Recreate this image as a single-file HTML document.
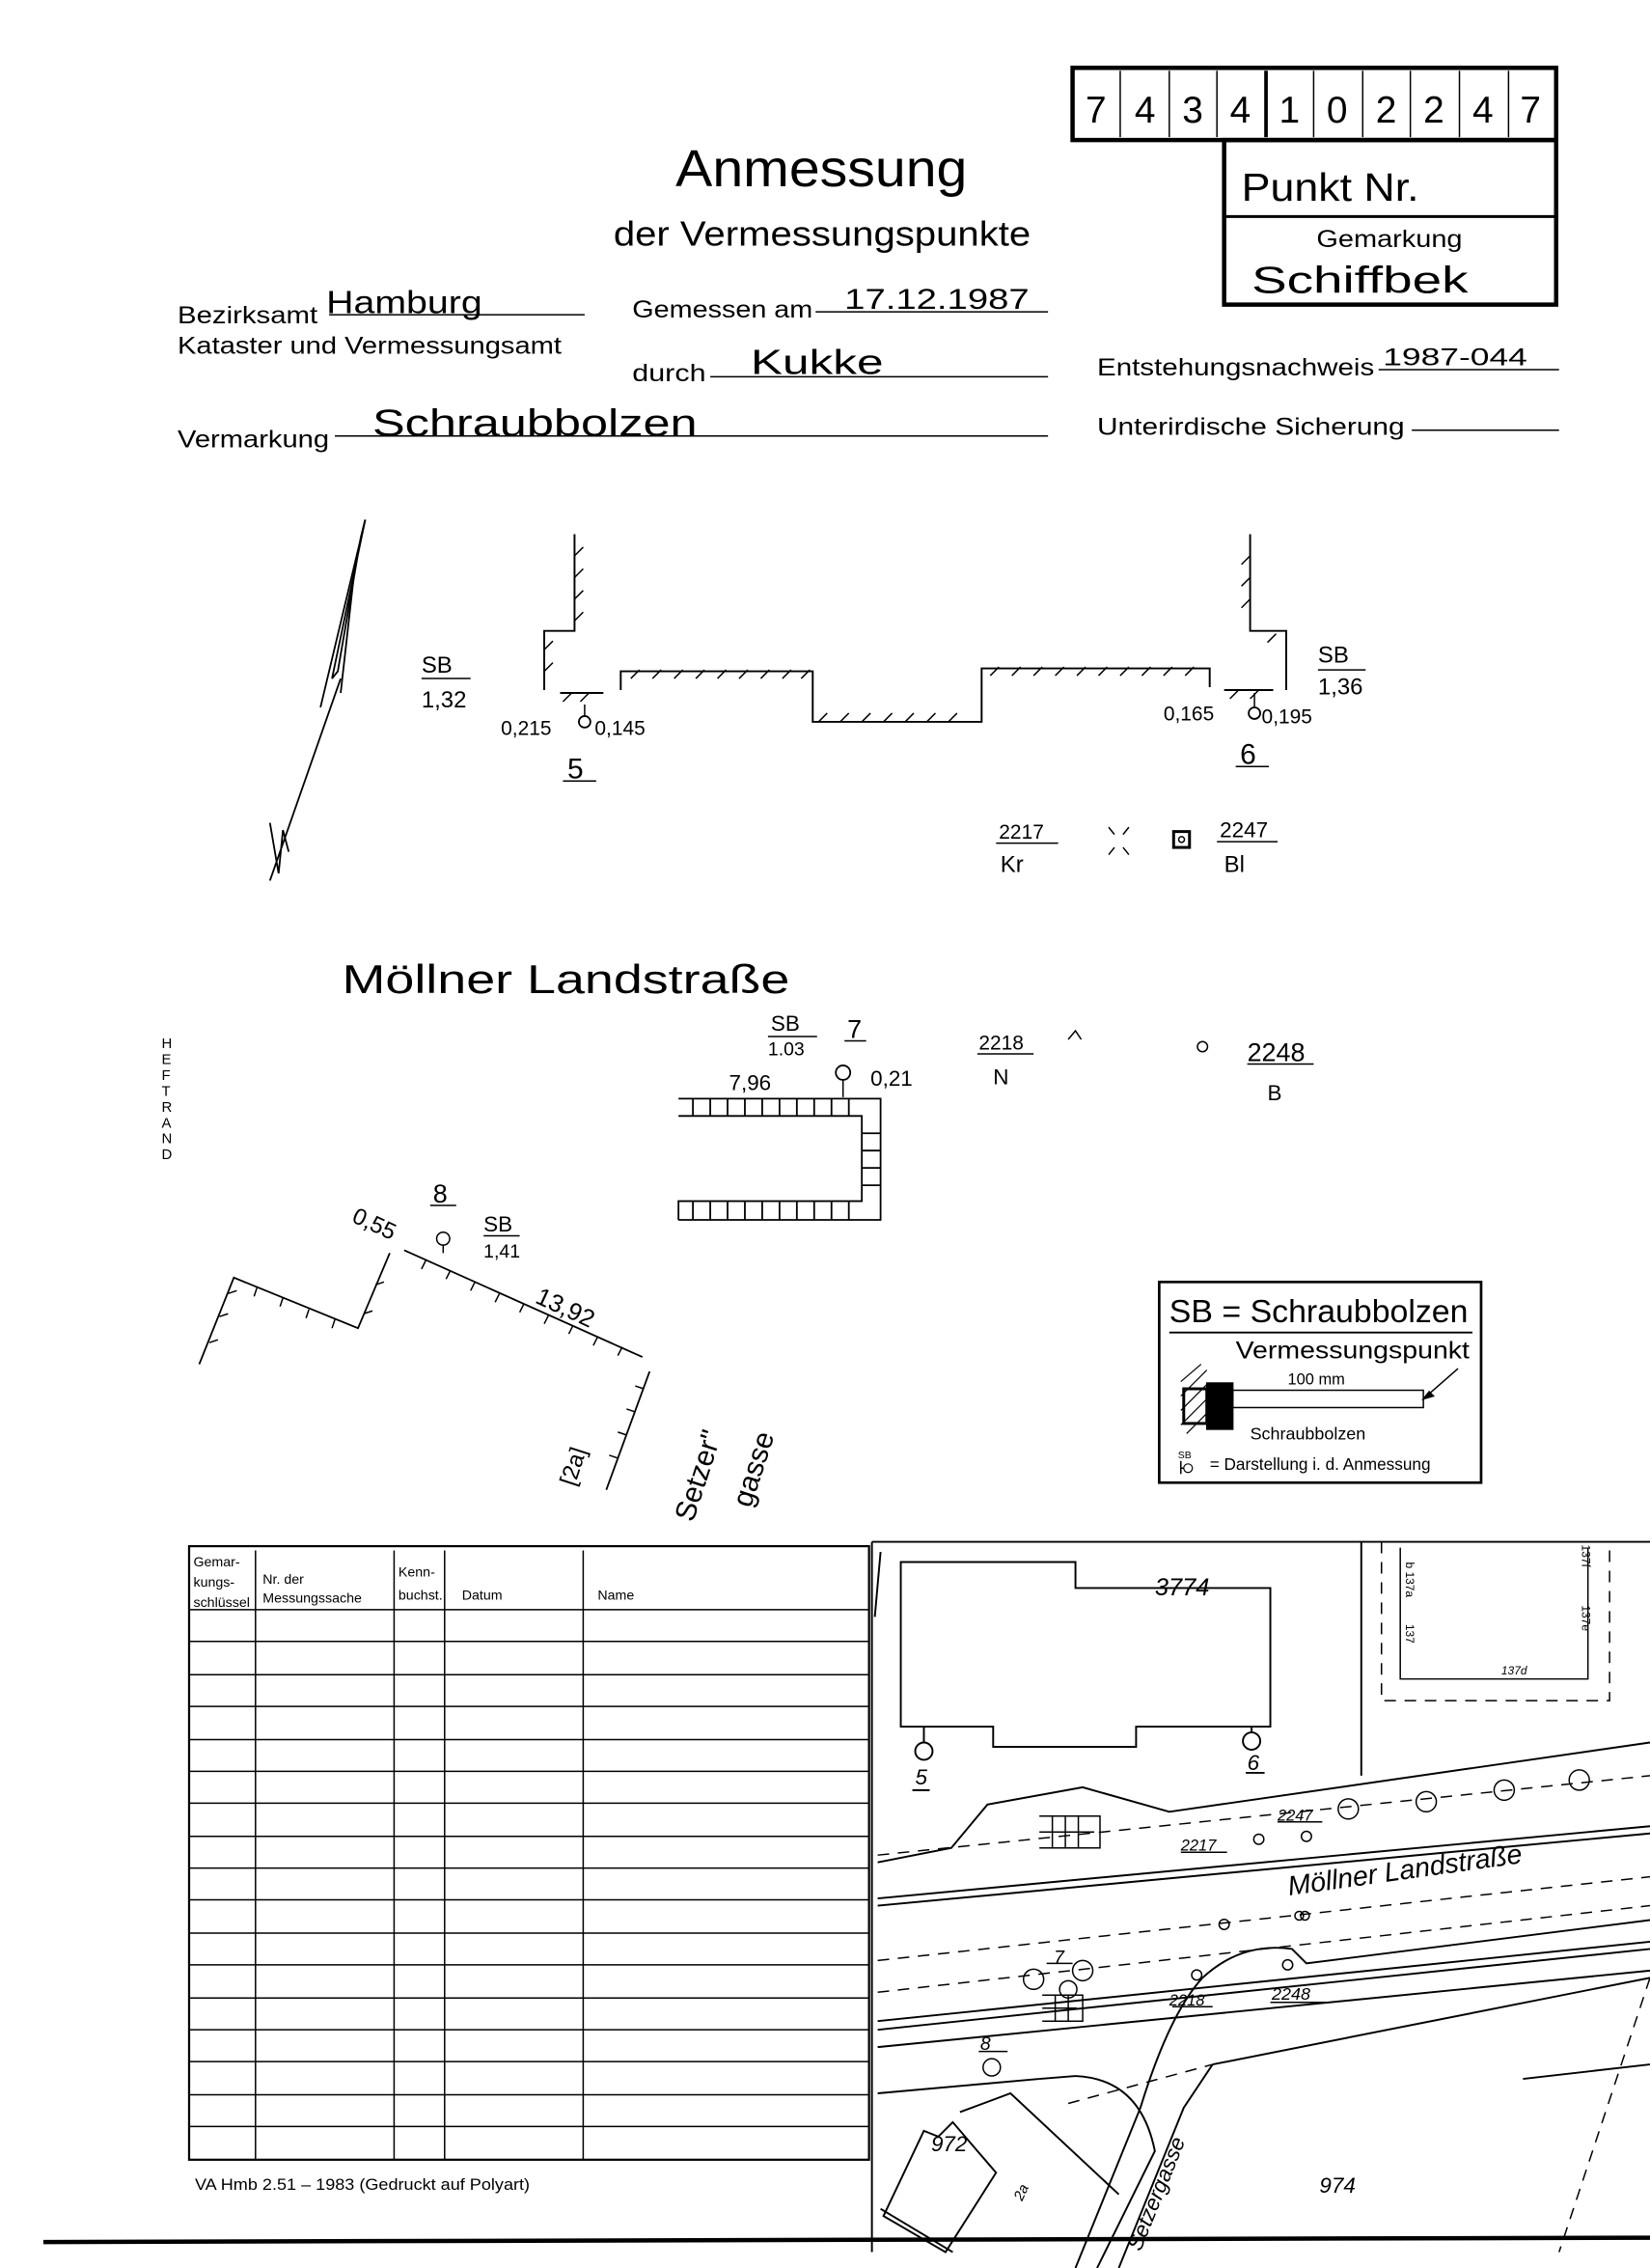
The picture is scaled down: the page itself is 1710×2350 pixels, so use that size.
<!DOCTYPE html>
<html><head><meta charset="utf-8"><style>
html,body{margin:0;padding:0;background:#fff}
svg{display:block}
text{font-family:"Liberation Sans",sans-serif;fill:#000}
</style></head><body>
<svg width="1710" height="2350" viewBox="0 0 1143 1571" preserveAspectRatio="none" xmlns="http://www.w3.org/2000/svg">
<g stroke="#000" fill="none">
<rect x="743" y="47" width="335" height="50" stroke-width="3"/>
<g stroke-width="1">
<line x1="776" y1="49" x2="776" y2="95"/><line x1="810" y1="49" x2="810" y2="95"/><line x1="843" y1="49" x2="843" y2="95"/>
<line x1="910" y1="49" x2="910" y2="95"/><line x1="944" y1="49" x2="944" y2="95"/><line x1="977" y1="49" x2="977" y2="95"/><line x1="1011" y1="49" x2="1011" y2="95"/><line x1="1045" y1="49" x2="1045" y2="95"/>
</g>
<line x1="877" y1="49" x2="877" y2="95" stroke-width="2.5"/>
<rect x="848" y="97" width="230" height="114" stroke-width="3"/>
<line x1="848" y1="150" x2="1078" y2="150" stroke-width="2"/>
<g stroke-width="1">
<line x1="228" y1="218" x2="405" y2="218"/>
<line x1="565" y1="216" x2="726" y2="216"/>
<line x1="492" y1="261" x2="726" y2="261"/>
<line x1="955" y1="256" x2="1080" y2="256"/>
<line x1="232" y1="302" x2="726" y2="302"/>
<line x1="978" y1="298" x2="1080" y2="298"/>
</g>
<g stroke-width="1.2">
<path d="M253,360 L230,470 L234,465 L250,372 Z"/>
<path d="M253,360 L222,490 M245,400 L236,480"/>
<path d="M236,470 L187,610 M187,570 L193,605 L196,575 L200,590"/>
</g>
<g stroke-width="1.3">
<path d="M398,370 V437 H377 V478"/>
<path d="M388,480 H418"/>
<path d="M430,478 V465 H563 V500 H680 V463 H838 V476"/>
<path d="M848,478 H882"/>
<path d="M866,370 V437 H891 V478"/>
</g>
<g stroke-width="1">
<path d="M398,385 l6,-6 M398,400 l6,-6 M398,415 l6,-6 M398,430 l6,-6"/>
<path d="M377,450 l6,-6 M377,465 l6,-6"/>
<path d="M437,470 l6,-6 M452,470 l6,-6 M467,470 l6,-6 M482,470 l6,-6 M497,470 l6,-6 M512,470 l6,-6 M527,470 l6,-6 M542,470 l6,-6 M555,470 l6,-6"/>
<path d="M567,500 l6,-6 M582,500 l6,-6 M597,500 l6,-6 M612,500 l6,-6 M627,500 l6,-6 M642,500 l6,-6 M657,500 l6,-6"/>
<path d="M686,468 l6,-6 M701,468 l6,-6 M716,468 l6,-6 M731,468 l6,-6 M746,468 l6,-6 M761,468 l6,-6 M776,468 l6,-6 M791,468 l6,-6 M806,468 l6,-6 M821,468 l6,-6"/>
<path d="M390,486 l6,-6 M402,486 l6,-6 M852,484 l6,-6 M866,484 l6,-6"/>
<path d="M866,385 l-6,6 M866,400 l-6,6 M866,415 l-6,6 M878,445 l6,-6"/>
</g>
<circle cx="405" cy="500" r="4" stroke-width="1.2"/><circle cx="869" cy="494" r="4" stroke-width="1.2"/>
<line x1="405" y1="488" x2="405" y2="496"/><line x1="869" y1="480" x2="869" y2="490"/>
<line x1="292" y1="470" x2="326" y2="470"/><line x1="913" y1="464" x2="946" y2="464"/>
<line x1="390" y1="541" x2="413" y2="541"/><line x1="856" y1="531" x2="879" y2="531"/>
<line x1="690" y1="584" x2="733" y2="584"/><line x1="843" y1="583" x2="885" y2="583"/>
<path d="M768,573 l4,5 M782,573 l-4,5 M768,592 l4,-5 M782,592 l-4,-5"/>
<rect x="813" y="576" width="11" height="11" stroke-width="2"/><circle cx="818.5" cy="581.5" r="2"/>
<line x1="532" y1="718" x2="566" y2="718"/><line x1="585" y1="721" x2="600" y2="721"/>
<line x1="677" y1="730" x2="716" y2="730"/><line x1="864" y1="737" x2="910" y2="737"/>
<path d="M740,720 l5,-6 l4,6"/>
<circle cx="833" cy="725" r="3.5"/>
<circle cx="584" cy="743" r="5" stroke-width="1.2"/><line x1="584" y1="748" x2="584" y2="760"/>
<g stroke-width="1.2">
<path d="M470,761 H610 V845 H470 M470,773 H597 V832 H470 V845"/>
<path d="M480,761 v12 M492,761 v12 M504,761 v12 M516,761 v12 M528,761 v12 M540,761 v12 M552,761 v12 M564,761 v12 M576,761 v12 M588,761 v12"/>
<path d="M480,832 v13 M492,832 v13 M504,832 v13 M516,832 v13 M528,832 v13 M540,832 v13 M552,832 v13 M564,832 v13 M576,832 v13 M588,832 v13"/>
<path d="M597,785 h13 M597,797 h13 M597,809 h13 M597,821 h13"/>
</g>
<line x1="298" y1="835" x2="316" y2="835"/>
<circle cx="307" cy="858" r="4.5"/><line x1="307" y1="862" x2="307" y2="868"/>
<line x1="335" y1="856" x2="360" y2="856"/>
<g stroke-width="1.2">
<path d="M280,866 L445,940"/>
<path d="M138,945 L162,885 L248,920 L270,868"/>
<path d="M450,950 L420,1032"/>
</g>
<g stroke-width="1">
<path d="M295,873 l-3,6 M312,880 l-3,6 M329,888 l-3,6 M346,896 l-3,6 M363,903 l-3,6 M380,911 l-3,6 M397,918 l-3,6 M414,926 l-3,6 M431,933 l-3,6"/>
<path d="M145,930 l6,-2 M152,912 l6,-2 M158,896 l6,-2 M178,892 l-2,6 M196,899 l-2,6 M214,907 l-2,6 M232,914 l-2,6 M252,910 l6,-2 M260,890 l6,-2"/>
<path d="M446,962 l-6,-2 M440,978 l-6,-2 M434,994 l-6,-2 M428,1010 l-6,-2"/>
</g>
<rect x="803" y="888" width="223" height="139" stroke-width="1.8"/>
<line x1="810" y1="923" x2="1020" y2="923" stroke-width="1.2"/>
<g stroke-width="0.8">
<path d="M818,957 l14,-12 M818,967 l18,-18 M818,977 l18,-18 M818,987 l18,-18 M822,993 l14,-14"/>
</g>
<rect x="820" y="962" width="16" height="24" stroke-width="2"/>
<rect x="836" y="958" width="18" height="32" fill="#000"/>
<rect x="854" y="963" width="132" height="12" stroke-width="1"/>
<line x1="1010" y1="948" x2="986" y2="969"/><path d="M986,969 l7,-2 l-3,-3 Z" fill="#000"/>
<circle cx="823" cy="1017" r="3" stroke-width="0.8"/><line x1="818" y1="1012" x2="818" y2="1021"/><line x1="818" y1="1017" x2="820" y2="1017"/>
<rect x="131" y="1071" width="471" height="425" stroke-width="1.5"/>
<g stroke-width="1">
<line x1="131" y1="1115" x2="602" y2="1115"/>
<line x1="177" y1="1074" x2="177" y2="1496"/><line x1="273" y1="1074" x2="273" y2="1496"/><line x1="308" y1="1074" x2="308" y2="1496"/><line x1="404" y1="1074" x2="404" y2="1496"/>
<line x1="131" y1="1137" x2="602" y2="1137"/><line x1="131" y1="1160" x2="602" y2="1160"/><line x1="131" y1="1182" x2="602" y2="1182"/><line x1="131" y1="1205" x2="602" y2="1205"/><line x1="131" y1="1227" x2="602" y2="1227"/><line x1="131" y1="1249" x2="602" y2="1249"/><line x1="131" y1="1272" x2="602" y2="1272"/><line x1="131" y1="1294" x2="602" y2="1294"/><line x1="131" y1="1316" x2="602" y2="1316"/><line x1="131" y1="1339" x2="602" y2="1339"/><line x1="131" y1="1361" x2="602" y2="1361"/><line x1="131" y1="1384" x2="602" y2="1384"/><line x1="131" y1="1406" x2="602" y2="1406"/><line x1="131" y1="1428" x2="602" y2="1428"/><line x1="131" y1="1451" x2="602" y2="1451"/><line x1="131" y1="1473" x2="602" y2="1473"/>
</g>
<g stroke-width="1.3">
<path d="M604,1068 V1560"/>
<path d="M604,1068 H1143"/>
<path d="M610,1075 L606,1120"/>
<path d="M624,1082 H745 V1100 H880 V1196 H787 V1210 H688 V1196 H624 Z"/>
<line x1="640" y1="1196" x2="640" y2="1207"/><circle cx="640" cy="1213" r="6"/>
<line x1="867" y1="1196" x2="867" y2="1200"/><circle cx="867" cy="1206" r="6"/>
<line x1="632" y1="1240" x2="644" y2="1240"/><line x1="863" y1="1228" x2="876" y2="1228"/>
<path d="M943,1068 V1230"/>
<path d="M608,1290 L659,1280 L684,1250 L750,1238 L810,1255 L1143,1207"/>
<path d="M608,1315 L1143,1265 M608,1320 L1143,1270"/>
<path d="M608,1400 L1143,1345 M608,1406 L1143,1350"/>
<path d="M608,1418 L1143,1365"/>
<path d="M608,1450 L720,1440"/>
<path d="M720,1440 L745,1438 M745,1438 Q790,1440 800,1490 L760,1571"/>
<path d="M665,1463 L700,1450 L775,1520"/>
<path d="M833,1370 Q860,1345 895,1350 L905,1360 L1143,1330"/>
<path d="M833,1370 Q810,1395 790,1460 L745,1571"/>
<path d="M840,1430 L820,1460 L775,1571"/>
<path d="M840,1430 L1143,1370"/>
<path d="M640,1476 L650,1480 L660,1470 L690,1505 L655,1560 L612,1535 Z"/>
<path d="M610,1530 L660,1560"/>
<path d="M1055,1440 L1143,1430"/>
</g>
<g stroke-width="1" stroke-dasharray="8,6">
<path d="M957,1068 V1178 H1115 V1068"/>
<path d="M608,1358 L1143,1300"/>
<path d="M608,1380 L1143,1320"/>
<path d="M740,1457 L840,1430"/>
<path d="M1143,1370 L1080,1560"/>
<path d="M608,1285 L1143,1230"/>
</g>
<path d="M970,1072 V1163 H1100 V1072" stroke-width="1"/>
<g stroke-width="1">
<circle cx="934" cy="1253" r="7"/><circle cx="988" cy="1248" r="7"/><circle cx="1042" cy="1240" r="7"/><circle cx="1094" cy="1233" r="7"/>
<circle cx="716" cy="1371" r="7"/><circle cx="750" cy="1365" r="7"/>
<circle cx="872" cy="1274" r="3.5"/><circle cx="905" cy="1272" r="3.5"/><circle cx="848" cy="1333" r="3.5"/><circle cx="900" cy="1327" r="3"/><circle cx="904" cy="1327" r="3"/><circle cx="829" cy="1368" r="3.5"/><circle cx="892" cy="1361" r="3.5"/>
<circle cx="740" cy="1378" r="6"/><circle cx="687" cy="1432" r="6"/>
<line x1="818" y1="1283" x2="850" y2="1283"/><line x1="885" y1="1262" x2="916" y2="1262"/>
<line x1="812" y1="1390" x2="840" y2="1390"/><line x1="880" y1="1387" x2="920" y2="1387"/>
<line x1="725" y1="1360" x2="743" y2="1360"/><line x1="678" y1="1421" x2="698" y2="1421"/>
<path d="M720,1258 H762 V1280 H720 M720,1269 H758 M729,1258 v22 M738,1258 v22 M747,1258 v22"/>
<path d="M722,1382 H750 V1400 H722 M722,1391 H746 M731,1382 v18 M740,1382 v18"/>
</g>
<path d="M30,1553 L1143,1550" stroke-width="3"/>
</g>
<g font-size="26">
<text x="752" y="85">7</text><text x="786" y="85">4</text><text x="819" y="85">3</text><text x="852" y="85">4</text><text x="886" y="85">1</text><text x="919" y="85">0</text><text x="953" y="85">2</text><text x="986" y="85">2</text><text x="1020" y="85">4</text><text x="1053" y="85">7</text>
</g>
<text x="860" y="139" font-size="27" textLength="123" lengthAdjust="spacingAndGlyphs">Punkt Nr.</text>
<text x="912" y="171" font-size="17" textLength="101" lengthAdjust="spacingAndGlyphs">Gemarkung</text>
<text x="867" y="203" font-size="26" textLength="150" lengthAdjust="spacingAndGlyphs">Schiffbek</text>
<text x="468" y="129" font-size="36" textLength="202" lengthAdjust="spacingAndGlyphs">Anmessung</text>
<text x="425" y="170" font-size="24" textLength="289" lengthAdjust="spacingAndGlyphs">der Vermessungspunkte</text>
<text x="123" y="224" font-size="17" textLength="97" lengthAdjust="spacingAndGlyphs">Bezirksamt</text>
<text x="226" y="217" font-size="22" textLength="108" lengthAdjust="spacingAndGlyphs">Hamburg</text>
<text x="123" y="245" font-size="17" textLength="266" lengthAdjust="spacingAndGlyphs">Kataster und Vermessungsamt</text>
<text x="438" y="220" font-size="17" textLength="125" lengthAdjust="spacingAndGlyphs">Gemessen am</text>
<text x="585" y="214" font-size="20" textLength="128" lengthAdjust="spacingAndGlyphs">17.12.1987</text>
<text x="438" y="264" font-size="17" textLength="51" lengthAdjust="spacingAndGlyphs">durch</text>
<text x="520" y="259" font-size="24" textLength="92" lengthAdjust="spacingAndGlyphs">Kukke</text>
<text x="760" y="260" font-size="17" textLength="192" lengthAdjust="spacingAndGlyphs">Entstehungsnachweis</text>
<text x="958" y="253" font-size="17" textLength="100" lengthAdjust="spacingAndGlyphs">1987-044</text>
<text x="123" y="310" font-size="17" textLength="105" lengthAdjust="spacingAndGlyphs">Vermarkung</text>
<text x="258" y="302" font-size="26" textLength="225" lengthAdjust="spacingAndGlyphs">Schraubbolzen</text>
<text x="760" y="301" font-size="17" textLength="213" lengthAdjust="spacingAndGlyphs">Unterirdische Sicherung</text>
<g font-size="16">
<text x="292" y="466">SB</text><text x="292" y="490">1,32</text>
<text x="913" y="459">SB</text><text x="913" y="481">1,36</text>
<text x="347" y="509" font-size="14">0,215</text><text x="412" y="509" font-size="14">0,145</text>
<text x="806" y="499" font-size="14">0,165</text><text x="874" y="501" font-size="14">0,195</text>
<text x="393" y="539" font-size="20">5</text><text x="859" y="529" font-size="20">6</text>
<text x="692" y="581" font-size="14">2217</text><text x="693" y="604" font-size="16">Kr</text>
<text x="845" y="580" font-size="15">2247</text><text x="848" y="604" font-size="16">Bl</text>
</g>
<text x="237" y="688" font-size="28" textLength="310" lengthAdjust="spacingAndGlyphs">Möllner Landstraße</text>
<g font-size="15">
<text x="534" y="714">SB</text><text x="532" y="731" font-size="13">1.03</text>
<text x="587" y="719" font-size="18">7</text>
<text x="678" y="727" font-size="14">2218</text><text x="688" y="751">N</text>
<text x="864" y="735" font-size="18">2248</text><text x="878" y="762">B</text>
<text x="505" y="755">7,96</text><text x="603" y="752">0,21</text>
<text x="300" y="833" font-size="18">8</text>
<text x="335" y="853">SB</text><text x="335" y="871" font-size="13">1,41</text>
<text x="243" y="846" font-size="16" transform="rotate(25 243 846)">0,55</text>
<text x="370" y="902" font-size="17" transform="rotate(25 370 902)">13,92</text>
<text x="398" y="1030" font-size="16" transform="rotate(-72 398 1030)">[2a]</text>
<text x="480" y="1055" font-size="20" transform="rotate(-72 480 1055)">Setzer"</text>
<text x="520" y="1045" font-size="20" transform="rotate(-72 520 1045)">gasse</text>
</g>
<g font-size="10">
<text x="112" y="726">H</text><text x="112" y="737">E</text><text x="112" y="748">F</text><text x="112" y="759">T</text><text x="112" y="770">R</text><text x="112" y="781">A</text><text x="112" y="792">N</text><text x="112" y="803">D</text>
</g>
<text x="810" y="916" font-size="22" textLength="207" lengthAdjust="spacingAndGlyphs">SB = Schraubbolzen</text>
<text x="856" y="941" font-size="17" textLength="162" lengthAdjust="spacingAndGlyphs">Vermessungspunkt</text>
<text x="892" y="959" font-size="11">100 mm</text>
<text x="866" y="997" font-size="12">Schraubbolzen</text>
<text x="816" y="1010" font-size="7">SB</text>
<text x="838" y="1018" font-size="11.5">= Darstellung i. d. Anmessung</text>
<g font-size="9.5">
<text x="134" y="1085">Gemar-</text><text x="134" y="1099">kungs-</text><text x="134" y="1113">schlüssel</text>
<text x="182" y="1097">Nr. der</text><text x="182" y="1110">Messungssache</text>
<text x="276" y="1092">Kenn-</text><text x="276" y="1108">buchst.</text>
<text x="320" y="1108">Datum</text><text x="414" y="1108">Name</text>
</g>
<text x="135" y="1517" font-size="11" textLength="232" lengthAdjust="spacingAndGlyphs">VA Hmb 2.51 – 1983 (Gedruckt auf Polyart)</text>
<g font-style="italic">
<text x="800" y="1105" font-size="17">3774</text>
<text x="634" y="1236" font-size="15">5</text>
<text x="864" y="1226" font-size="15">6</text>
<text x="893" y="1313" font-size="19" transform="rotate(-8 893 1313)">Möllner Landstraße</text>
<text x="818" y="1282" font-size="11">2217</text><text x="885" y="1261" font-size="11">2247</text>
<text x="810" y="1389" font-size="11">2218</text><text x="881" y="1385" font-size="12">2248</text>
<text x="730" y="1360" font-size="13">7</text><text x="679" y="1420" font-size="13">8</text>
<text x="645" y="1490" font-size="15">972</text>
<text x="914" y="1519" font-size="15">974</text>
<text x="708" y="1525" font-size="10" transform="rotate(-65 708 1525)">2a</text>
<text x="790" y="1560" font-size="15" transform="rotate(-68 790 1560)">Setzergasse</text>
<text x="1040" y="1160" font-size="8">137d</text>
</g>
<g font-size="8">
<text x="974" y="1082" transform="rotate(90 974 1082)">b 137a</text>
<text x="974" y="1125" transform="rotate(90 974 1125)">137</text>
<text x="1096" y="1070" transform="rotate(90 1096 1070)">137f</text>
<text x="1096" y="1112" transform="rotate(90 1096 1112)">137e</text>
</g>
</svg>
</body></html>
